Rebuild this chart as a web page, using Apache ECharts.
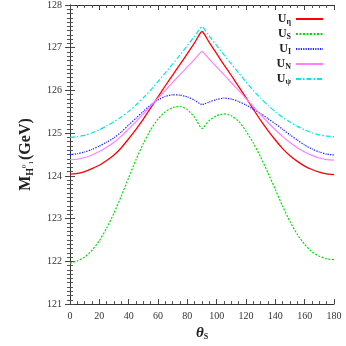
<!DOCTYPE html>
<html>
<head>
<meta charset="utf-8">
<script src="https://cdn.jsdelivr.net/npm/echarts@6/dist/echarts.min.js"></script>
<style>
  html, body { margin: 0; padding: 0; background: #fff; }
  #chart { width: 346px; height: 346px; }
</style>
</head>
<body>
<div id="chart"></div>
<script>
// theta_s in degrees
var theta = [0, 5, 10, 15, 20, 25, 30, 35, 40, 45, 50, 55, 60, 65, 70, 75, 80, 85, 90,
  95, 100, 105, 110, 115, 120, 125, 130, 135, 140, 145, 150, 155, 160, 165, 170, 175, 180];

var uEta = [124.04, 124.06, 124.10, 124.17, 124.25, 124.36, 124.49, 124.66, 124.87, 125.09, 125.33, 125.59, 125.85, 126.11, 126.36, 126.61, 126.86, 127.12, 127.38,
  127.12, 126.86, 126.60, 126.35, 126.09, 125.83, 125.56, 125.30, 125.06, 124.84, 124.64, 124.47, 124.34, 124.23, 124.15, 124.09, 124.05, 124.03];
var uS = [121.96, 122.01, 122.10, 122.26, 122.48, 122.78, 123.13, 123.53, 123.96, 124.38, 124.76, 125.08, 125.33, 125.50, 125.60, 125.63, 125.55, 125.37, 125.11,
  125.30, 125.41, 125.45, 125.41, 125.28, 125.05, 124.77, 124.44, 124.07, 123.68, 123.29, 122.93, 122.63, 122.40, 122.22, 122.12, 122.06, 122.04];
var uI = [124.50, 124.52, 124.56, 124.62, 124.70, 124.79, 124.89, 125.03, 125.19, 125.35, 125.51, 125.66, 125.78, 125.86, 125.90, 125.89, 125.85, 125.77, 125.67,
  125.73, 125.79, 125.82, 125.80, 125.74, 125.66, 125.56, 125.46, 125.34, 125.22, 125.09, 124.96, 124.84, 124.72, 124.63, 124.56, 124.51, 124.49];
var uN = [124.38, 124.39, 124.43, 124.49, 124.57, 124.67, 124.79, 124.93, 125.10, 125.27, 125.45, 125.64, 125.82, 126.00, 126.19, 126.37, 126.55, 126.73, 126.91,
  126.73, 126.55, 126.37, 126.18, 126.00, 125.81, 125.62, 125.43, 125.25, 125.08, 124.92, 124.78, 124.66, 124.56, 124.48, 124.42, 124.38, 124.37];
var uPsi = [124.90, 124.92, 124.95, 125.01, 125.08, 125.17, 125.27, 125.38, 125.51, 125.66, 125.83, 126.01, 126.21, 126.41, 126.62, 126.83, 127.05, 127.27, 127.49,
  127.27, 127.05, 126.83, 126.62, 126.41, 126.20, 126.00, 125.82, 125.65, 125.50, 125.37, 125.26, 125.16, 125.08, 125.01, 124.96, 124.93, 124.92];

var seriesNames = ['U_eta', 'U_S', 'U_I', 'U_N', 'U_psi'];
var legendLabels = {
  U_eta: '{u|U}{s|η}',
  U_S: '{u|U}{s|S}',
  U_I: '{u|U}{s|I}',
  U_N: '{u|U}{s|N}',
  U_psi: '{u|U}{s|ψ}'
};

var font = '"Liberation Serif", "DejaVu Serif", serif';

function pairs(ys) {
  return theta.map(function (t, i) { return [t, ys[i]]; });
}

function mkSeries(name, ys, color, type, width) {
  return {
    name: name,
    type: 'line',
    data: pairs(ys),
    showSymbol: false,
    symbol: 'none',
    smooth: 0.2,
    color: color,
    lineStyle: { color: color, width: width, type: type },
    xAxisIndex: 0,
    yAxisIndex: 0
  };
}

var chart = echarts.init(document.getElementById('chart'));

var axisCommon = {
  axisLine: { show: true, lineStyle: { color: '#333', width: 1 } },
  axisTick: { show: true, inside: true, length: 5, lineStyle: { color: '#444' } },
  splitLine: { show: false }
};

chart.setOption({
  animation: false,
  grid: { left: 70, right: 12, top: 5, bottom: 31 },
  legend: {
    data: seriesNames,
    orient: 'vertical',
    right: 17,
    top: 8,
    align: 'right',
    itemWidth: 27,
    itemHeight: 10,
    itemGap: 2,
    itemStyle: { opacity: 0 },
    formatter: function (n) { return legendLabels[n]; },
    textStyle: {
      rich: {
        u: { fontFamily: font, fontWeight: 'bold', fontSize: 12, color: '#222' },
        s: { fontFamily: font, fontWeight: 'bold', fontSize: 8, color: '#222', padding: [6, 0, 0, 0] }
      }
    }
  },
  xAxis: [
    Object.assign({}, axisCommon, {
      type: 'value',
      min: 0,
      max: 180,
      interval: 20,
      minorTick: { show: true, splitNumber: 4, length: 3, lineStyle: { color: '#555' } },
      axisLabel: { fontFamily: font, fontSize: 10, color: '#333', margin: 7 },
      name: '{t|θ}{s|S}',
      nameLocation: 'middle',
      nameGap: 17,
      nameTextStyle: {
        rich: {
          t: { fontFamily: font, fontWeight: 'bold', fontStyle: 'italic', fontSize: 15, color: '#222' },
          s: { fontFamily: font, fontWeight: 'bold', fontSize: 8, color: '#222', padding: [7, 0, 0, 0] }
        }
      }
    }),
    Object.assign({}, axisCommon, {
      type: 'value',
      position: 'top',
      min: 0,
      max: 180,
      interval: 20,
      minorTick: { show: true, splitNumber: 4, length: 3, lineStyle: { color: '#555' } },
      axisLabel: { show: false }
    })
  ],
  yAxis: [
    Object.assign({}, axisCommon, {
      type: 'value',
      min: 121,
      max: 128,
      interval: 1,
      minorTick: { show: true, splitNumber: 10, length: 3, lineStyle: { color: '#555' } },
      axisLabel: { fontFamily: font, fontSize: 10, color: '#333', margin: 8 },
      name: '{m|M}{h|H}{z|0}{o|1}{m|(GeV)}',
      nameLocation: 'middle',
      nameGap: 35,
      nameTextStyle: {
        rich: {
          m: { fontFamily: font, fontWeight: 'bold', fontSize: 16, color: '#222' },
          h: { fontFamily: font, fontWeight: 'bold', fontSize: 10, color: '#222', padding: [8, 0, 0, 0] },
          z: { fontFamily: font, fontSize: 7, color: '#222', padding: [0, 0, 4, 0] },
          o: { fontFamily: font, fontSize: 7, color: '#222', padding: [11, 1, 0, 0] }
        }
      }
    }),
    Object.assign({}, axisCommon, {
      type: 'value',
      position: 'right',
      min: 121,
      max: 128,
      interval: 1,
      minorTick: { show: true, splitNumber: 10, length: 3, lineStyle: { color: '#555' } },
      axisLabel: { show: false }
    })
  ],
  series: [
    mkSeries('U_eta', uEta, '#ff0000', 'solid', 1.3),
    mkSeries('U_S', uS, '#00e000', [2, 1.5], 1.2),
    mkSeries('U_I', uI, '#2020ff', [1.2, 1.2], 1.3),
    mkSeries('U_N', uN, '#ff80ff', 'solid', 1.2),
    mkSeries('U_psi', uPsi, '#00e8e8', [5, 2, 1.5, 2], 1.2)
  ]
});
</script>
</body>
</html>
